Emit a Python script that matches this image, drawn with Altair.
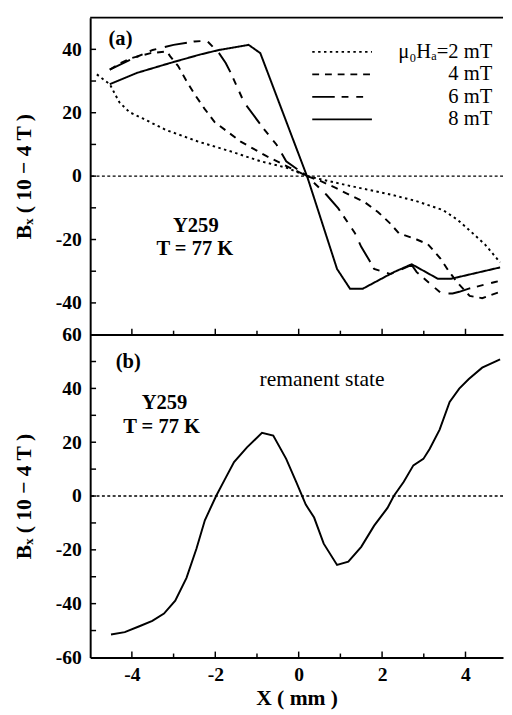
import altair as alt
import pandas as pd

FONT = "Liberation Serif"

# ---------------- panel (a): applied field profiles ----------------
series_names = ["2 mT", "4 mT", "6 mT", "8 mT"]

x_2mT = [-4.84, -4.53, -4.3, -4.06, -3.74, -3.19, -2.41, -1.63, -0.92, -0.3, 0.2, 0.5, 1.2,
         2.2, 2.8, 3.46, 3.81, 4.08, 4.47, 4.83]
y_2mT = [32.1, 29.0, 23.3, 20.2, 18.2, 14.6, 10.9, 7.8, 4.7, 2.7, 0.0, -0.9, -3.0,
         -5.8, -7.8, -10.7, -13.8, -16.9, -21.6, -27.2]

x_4mT = [-4.53, -4.26, -4.02, -3.55, -3.16, -3.08, -2.89, -2.69, -2.5, -2.26, -2.02, -1.39,
         -0.77, -0.22, 0.2, 0.52, 0.9, 1.23, 1.58, 1.9, 2.2, 2.4, 2.83, 3.1, 3.4, 3.6, 3.8,
         4.1, 4.4, 4.83]
y_4mT = [33.6, 35.7, 37.2, 38.8, 39.3, 37.8, 34.7, 30.0, 25.9, 21.3, 17.1, 10.9,
         6.3, 2.7, 0.0, -1.5, -3.8, -6.0, -8.2, -11.3, -15.0, -18.0, -20.0, -21.5, -26.0, -30.0,
         -33.5, -37.8, -38.5, -36.5]

x_6mT = [-4.53, -4.0, -3.5, -3.0, -2.5, -2.2, -1.91, -1.75, -1.63, -1.31, -0.85, -0.53, -0.3,
         0.2, 0.66, 0.95, 1.35, 1.5, 1.7, 1.81, 2.2, 2.45, 2.71, 2.83, 3.42, 3.69, 3.85, 4.08,
         4.71, 4.85]
y_6mT = [33.6, 37.0, 39.8, 41.4, 42.5, 42.7, 38.8, 35.7, 32.6, 23.3, 15.1, 9.9, 4.7,
         0.0, -5.8, -10.2, -18.0, -22.3, -26.7, -29.3, -30.9, -29.5, -28.0, -30.3, -37.0, -37.0,
         -36.5, -35.5, -33.4, -33.0]

x_8mT = [-4.53, -3.87, -3.08, -2.38, -1.91, -1.2, -0.92, 0.21, 0.92, 1.23, 1.54, 2.28, 2.71,
         3.34, 3.65, 4.83]
y_8mT = [29.0, 32.6, 35.7, 38.3, 39.8, 41.4, 38.8, -0.4, -29.3, -35.5, -35.5, -30.3, -27.8,
         -32.4, -32.4, -28.8]

# ---------------- panel (b): remanent state ----------------
x_rem = [-4.5, -4.17, -3.82, -3.51, -3.23, -2.96, -2.69, -2.45, -2.25, -1.98, -1.78, -1.55,
         -1.24, -0.88, -0.61, -0.3, -0.06, 0.17, 0.37, 0.6, 0.92, 1.19, 1.5, 1.81, 2.13, 2.28,
         2.52, 2.75, 2.99, 3.14, 3.38, 3.62, 3.85, 4.08, 4.4, 4.83]
y_rem = [-51.5, -50.6, -48.4, -46.4, -43.7, -38.9, -30.4, -19.5, -9.0, 0.0, 5.9, 12.6,
         18.1, 23.5, 22.5, 13.8, 5.3, -3.2, -8.0, -17.7, -25.6, -24.4, -18.9, -11.0, -4.4, 0.0,
         5.3, 11.4, 13.8, 17.5, 24.7, 35.0, 39.9, 43.5, 47.7, 50.8]

# axis ticks / labels
x_major = [-4, -2, 0, 2, 4]
x_minor = [-3, -1, 1, 3]
ya_labels = [-40, -20, 0, 20, 40]
ya_ticks = [-40, -30, -20, -10, 0, 10, 20, 30, 40]
yb_labels = [-60, -40, -20, 0, 20, 40, 60]
yb_ticks = [-50, -40, -30, -20, -10, 0, 10, 20, 30, 40, 50]

legend_labels = ["μ₀Hₐ=2 mT", "4  mT", "6  mT", "8  mT"]
dashes = [[2.5, 3.5], [7, 6], [23, 7, 7, 8, 7, 9], [1, 0]]

W, H1, H2 = 422, 324, 330

xs = alt.Scale(domain=[-5, 4.9], nice=False, zero=False)
ys1 = alt.Scale(domain=[-50, 50], nice=False, zero=False)
ys2 = alt.Scale(domain=[-60, 60], nice=False, zero=False)

ytitle = "Bₓ ( 10 − 4   T )"


def yaxis(values):
    return alt.Axis(values=values, ticks=False, tickSize=0, labelPadding=9, labelFont=FONT,
                    labelFontSize=20, labelFontWeight="bold", labelColor="black",
                    labelExpr="'' + datum.value", labelFlush=False, labelOverlap=False,
                    domainColor="black", domainWidth=2, grid=False, title=ytitle,
                    titleFont=FONT, titleFontSize=22, titleFontWeight="bold",
                    titleColor="black", titleX=-56)


def text(txt, px, py, size, weight="bold", align="center"):
    return alt.Chart(pd.DataFrame({"t": [txt]})).mark_text(
        font=FONT, fontSize=size, fontWeight=weight, align=align, baseline="middle",
        color="black").encode(text="t:N", x=alt.value(px), y=alt.value(py))


def ticks_y(vals, length):
    return alt.Chart(pd.DataFrame({"y": vals})).mark_rule(color="black", strokeWidth=1.5).encode(
        y="y:Q", x=alt.value(0), x2=alt.value(length))


def ticks_x(vals, h, length):
    return alt.Chart(pd.DataFrame({"x": vals})).mark_rule(color="black", strokeWidth=1.5).encode(
        x="x:Q", y=alt.value(h), y2=alt.value(h - length))


def zero_line():
    return alt.Chart(pd.DataFrame({"y": [0]})).mark_rule(
        color="black", strokeWidth=1.5, strokeDash=[3, 2.5]).encode(y="y:Q")


# ----- build panel (a) -----
rows = []
for name, xv, yv in zip(series_names, [x_2mT, x_4mT, x_6mT, x_8mT], [y_2mT, y_4mT, y_6mT, y_8mT]):
    for i, (a, b) in enumerate(zip(xv, yv)):
        rows.append({"x": a, "y": b, "series": name, "i": i})
df_a = pd.DataFrame(rows)

lines_a = alt.Chart(df_a).mark_line(color="black", strokeWidth=2, clip=True).encode(
    x=alt.X("x:Q", scale=xs, axis=alt.Axis(labels=False, ticks=False, domainColor="black",
                                            domainWidth=2, grid=False, title=None)),
    y=alt.Y("y:Q", scale=ys1, axis=yaxis(ya_labels)),
    strokeDash=alt.StrokeDash("series:N", scale=alt.Scale(domain=series_names, range=dashes),
                              legend=None),
    detail="series:N",
    order="i:Q",
)

top_border = alt.Chart(pd.DataFrame({"a": [0]})).mark_rule(color="black", strokeWidth=2).encode(
    x=alt.value(0), x2=alt.value(W), y=alt.value(0))

legend_layers = []
leg_y = [35, 58, 81, 104]
for lab, dash, ly in zip(legend_labels, dashes, leg_y):
    legend_layers.append(
        alt.Chart(pd.DataFrame({"a": [0]})).mark_rule(color="black", strokeWidth=2,
                                                       strokeDash=dash).encode(
            x=alt.value(227), x2=alt.value(288), y=alt.value(ly)))
    legend_layers.append(text(lab, 411, ly, 21, weight="normal", align="right"))

panel_a = alt.layer(
    zero_line(), lines_a, top_border,
    ticks_y(ya_ticks, 6), ticks_x(x_major, H1, 6), ticks_x(x_minor, H1, 4),
    text("(a)", 31, 22, 21), text("Y259", 108, 213, 21), text("T = 77 K", 107, 237, 21),
    *legend_layers,
).properties(width=W, height=H1)

# ----- build panel (b) -----
df_b = pd.DataFrame({"x": x_rem, "y": y_rem})
line_b = alt.Chart(df_b).mark_line(color="black", strokeWidth=2, clip=True).encode(
    x=alt.X("x:Q", scale=xs, axis=alt.Axis(values=x_major, ticks=False, tickSize=0,
                                            labelPadding=8, labelFont=FONT, labelFontSize=20,
                                            labelFontWeight="bold", labelColor="black",
                                            labelExpr="'' + datum.value", labelFlush=False,
                                            domainColor="black", domainWidth=2, grid=False,
                                            title="X ( mm )", titleFont=FONT, titleFontSize=22,
                                            titleFontWeight="bold", titleColor="black",
                                            titlePadding=3)),
    y=alt.Y("y:Q", scale=ys2, axis=yaxis(yb_labels)),
)

panel_b = alt.layer(
    zero_line(), line_b,
    ticks_y(yb_ticks, 6), ticks_x(x_major, H2, 6), ticks_x(x_minor, H2, 4),
    text("(b)", 39, 28, 21), text("remanent state", 237, 46, 22, weight="normal"),
    text("Y259", 76, 70, 21), text("T = 77 K", 73, 95, 21),
).properties(width=W, height=H2)

chart = alt.vconcat(panel_a, panel_b, spacing=0, bounds="flush").configure_view(
    stroke=None).properties(padding={"left": 5, "top": 1, "right": 0, "bottom": 0})

chart.save("out.html", embed_options={"renderer": "svg", "actions": False})
